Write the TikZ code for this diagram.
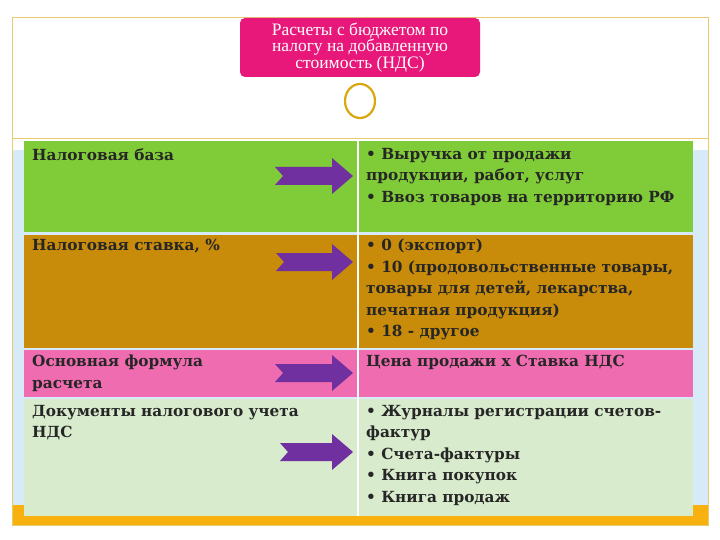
\documentclass[tikz,border=0pt]{standalone}
\usepackage{fontspec}
\usetikzlibrary{shapes.geometric}
\setmainfont{Liberation Serif}
\newfontfamily\cellfont{DejaVu Serif}
\begin{document}
\begin{tikzpicture}[x=1pt,y=-1pt,
  cell/.style={anchor=north west,align=left,inner sep=0pt,font=\cellfont\bfseries\fontsize{15.3}{21.5}\selectfont,text=black!85},
  arr/.style={fill=arrowc,draw=none}]
\definecolor{arrowc}{HTML}{7030A0}
\definecolor{titlec}{HTML}{E8177A}
\definecolor{gold}{HTML}{D9A80F}
\definecolor{orangec}{HTML}{F9B10F}
\definecolor{blueb}{HTML}{D6EAF8}
\definecolor{rowa}{HTML}{80CC38}
\definecolor{rowb}{HTML}{C98C0A}
\definecolor{rowc}{HTML}{F06CB0}
\definecolor{rowd}{HTML}{D8EBCC}
\useasboundingbox (0,0) rectangle (720,540);
\fill[white] (0,0) rectangle (720,540);
% frame
\fill[orangec] (12,495) rectangle (708,525);
\fill[blueb] (12,150) rectangle (708,505);
\draw[gold!60,line width=0.8] (12,17) rectangle (708,525);
\draw[gold!60,line width=0.8] (12,138) -- (708,138);
% title
\node[fill=titlec,rounded corners=5,minimum width=240,minimum height=59,text=white,align=center,font=\fontsize{17.5}{16.5}\selectfont] (title) at (360,47.5) {Расчеты с бюджетом по\\налогу на добавленную\\стоимость (НДС)};
\node[circle,fill=white,minimum size=44] (ringbg) at (360,101) {};
\node[ellipse,draw=gold,line width=2.2,minimum width=30,minimum height=34,inner sep=0pt] (ring) at (360,101) {};
% rows
\fill[rowa] (24,141) rectangle (693,232);
\fill[rowb] (24,235) rectangle (693,348);
\fill[rowc] (24,350) rectangle (693,397);
\fill[rowd] (24,399) rectangle (693,516);
\draw[white,line width=1.5] (358,141) -- (358,516);
\node[cell] (l1) at (32,148) {Налоговая база};
\node[cell] (r1) at (366,148) {• Выручка от продажи\\продукции, работ, услуг\\• Ввоз товаров на территорию РФ};
\node[cell] (l2) at (32,239) {Налоговая ставка, \%};
\node[cell] (r2) at (366,239) {• 0 (экспорт)\\• 10 (продовольственные товары,\\товары для детей, лекарства,\\печатная продукция)\\• 18 - другое};
\node[cell] (l3) at (32,355) {Основная формула\\расчета};
\node[cell] (r3) at (366,355) {Цена продажи х Ставка НДС};
\node[cell] (l4) at (32,405) {Документы налогового учета\\НДС};
\node[cell] (r4) at (366,405) {• Журналы регистрации счетов-\\фактур\\• Счета-фактуры\\• Книга покупок\\• Книга продаж};
% arrows
\foreach \cy/\x in {176/275,262/276,373/275,452/280}{
  \fill[arr] (\x,\cy-9) -- (332,\cy-9) -- (332,\cy-18) -- (353,\cy) -- (332,\cy+18) -- (332,\cy+9) -- (\x,\cy+9) -- (\x+8,\cy) -- cycle;
}
\end{tikzpicture}
\end{document}
